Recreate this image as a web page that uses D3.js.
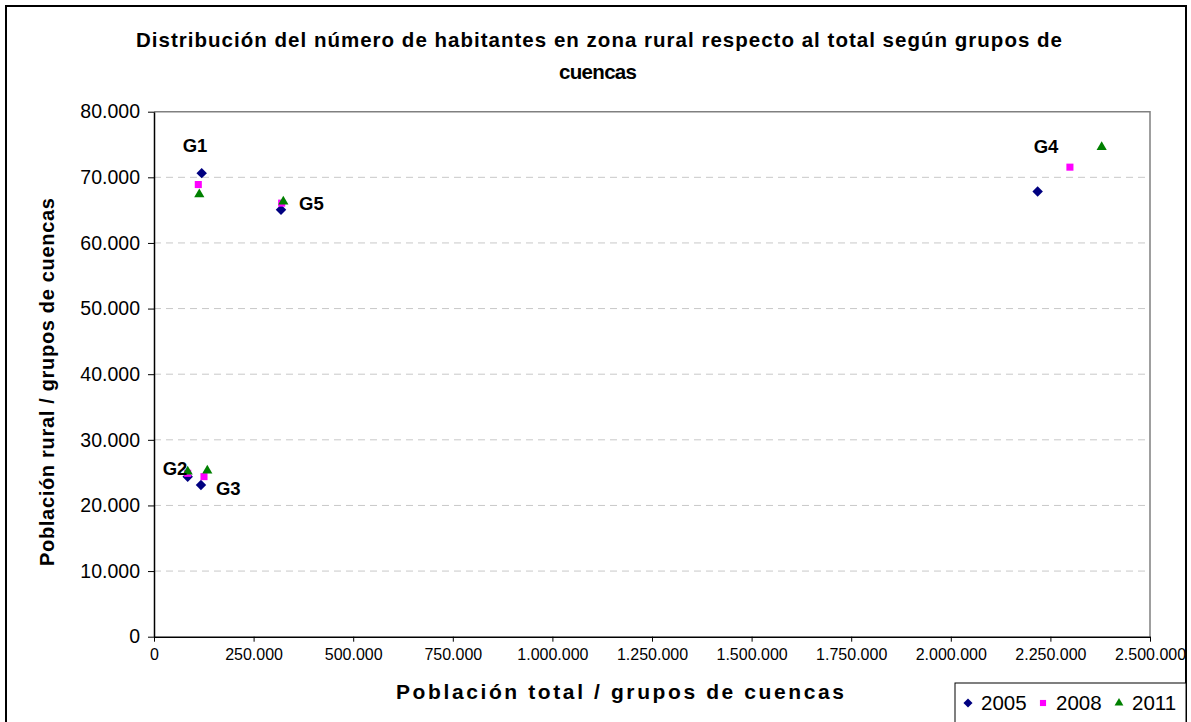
<!DOCTYPE html>
<html>
<head>
<meta charset="utf-8">
<script src="https://cdn.jsdelivr.net/npm/d3@7"></script>
<style>
  body { margin: 0; background: #fff; }
  text { font-family: "Liberation Sans", Arial, sans-serif; }
</style>
</head>
<body>
<div id="chart"></div>
<script>
var svgWidth = 1191
var svgHeight = 722

// data (x = total population, y = rural population)
var groups = ["G1", "G2", "G3", "G4", "G5"]
var years = ["2005", "2008", "2011"]
var total2005 = [119700, 84600, 117900, 2218000, 318800]
var rural2005 = [70640, 24390, 23120, 67840, 65050]
var total2008 = [111200, 84600, 125500, 2299000, 320500]
var rural2008 = [68900, 24900, 24390, 71550, 66070]
var total2011 = [113700, 84600, 133800, 2378700, 324600]
var rural2011 = [67400, 25150, 25300, 74600, 66300]
var xTicks = [0, 250000, 500000, 750000, 1000000, 1250000, 1500000, 1750000, 2000000, 2250000, 2500000]
var yTicks = [0, 10000, 20000, 30000, 40000, 50000, 60000, 70000, 80000]

var series = [
  { name: years[0], x: total2005, y: rural2005, color: "#000080", symbol: d3.symbolDiamond2, size: 70 },
  { name: years[1], x: total2008, y: rural2008, color: "#FF00FF", symbol: d3.symbolSquare, size: 50 },
  { name: years[2], x: total2011, y: rural2011, color: "#008000", symbol: d3.symbolTriangle, size: 45 }
]

var es = d3.formatLocale({ decimal: ",", thousands: ".", grouping: [3], currency: ["", ""] })
var fmt = es.format(",d")

var svg = d3.select("#chart")
  .append("svg")
  .attr("width", svgWidth)
  .attr("height", svgHeight)

// outer frame
svg.append("rect")
  .attr("x", 6).attr("y", 6)
  .attr("width", 1180).attr("height", 730)
  .attr("fill", "none")
  .attr("stroke", "#000")
  .attr("stroke-width", 2)

var xScale = d3.scaleLinear().domain([0, 2500000]).range([154, 1150])
var yScale = d3.scaleLinear().domain([0, 80000]).range([636.7, 111.7])

// gridlines
svg.append("g")
  .selectAll("line")
  .data(yTicks.filter(d => d > 0 && d < 80000))
  .enter()
  .append("line")
  .attr("x1", xScale(0)).attr("x2", xScale(2500000))
  .attr("y1", d => yScale(d)).attr("y2", d => yScale(d))
  .attr("stroke", "#c8c8c8")
  .attr("stroke-dasharray", "7,5")

// plot border top/right
svg.append("path")
  .attr("d", `M${xScale(0)},${yScale(80000)}H${xScale(2500000)}V${yScale(0)}`)
  .attr("fill", "none")
  .attr("stroke", "#808080")
  .attr("stroke-width", 1.5)

var bottomAxis = d3.axisBottom(xScale).tickValues(xTicks).tickFormat(fmt).tickSizeInner(5).tickSizeOuter(0)
var leftAxis = d3.axisLeft(yScale).tickValues(yTicks).tickFormat(fmt).tickSizeInner(6).tickSizeOuter(0)

var gx = svg.append("g")
  .attr("transform", `translate(0, ${yScale(0)})`)
  .call(bottomAxis)
gx.select(".domain").attr("stroke", "#000").attr("stroke-width", 1.5)
gx.selectAll("line").attr("stroke", "#000")
gx.selectAll("text")
  .attr("font-size", "16px")
  .attr("font-family", "Liberation Sans, Arial, sans-serif")
  .attr("fill", "#000")
  .attr("y", 12)

var gy = svg.append("g")
  .attr("transform", `translate(${xScale(0)}, 0)`)
  .call(leftAxis)
gy.select(".domain").attr("stroke", "#000").attr("stroke-width", 1.5)
gy.selectAll("line").attr("stroke", "#000")
gy.selectAll("text")
  .attr("font-size", "19.5px")
  .attr("font-family", "Liberation Sans, Arial, sans-serif")
  .attr("fill", "#000")
  .attr("x", -14)

// points
series.forEach(s => {
  svg.append("g")
    .selectAll("path")
    .data(s.x.map((v, i) => ({ x: v, y: s.y[i] })))
    .enter()
    .append("path")
    .attr("d", d3.symbol().type(s.symbol).size(s.size))
    .attr("transform", d => `translate(${xScale(d.x)}, ${yScale(d.y)})`)
    .attr("fill", s.color)
})

// group labels, placed next to the 2005 point
var labelOffset = { G1: [-19, -21], G2: [-25, -2], G3: [15, 10], G4: [-4, -39], G5: [18, 0] }
svg.append("g")
  .selectAll("text")
  .data(groups)
  .enter()
  .append("text")
  .attr("x", (d, i) => xScale(total2005[i]) + labelOffset[d][0])
  .attr("y", (d, i) => yScale(rural2005[i]) + labelOffset[d][1])
  .attr("font-size", "18.5px")
  .attr("font-weight", "bold")
  .text(d => d)

// title
svg.append("text")
  .attr("x", 599).attr("y", 47)
  .attr("text-anchor", "middle")
  .attr("font-size", "20.5px")
  .attr("font-weight", "bold")
  .attr("textLength", 926)
  .attr("lengthAdjust", "spacing")
  .text("Distribución del número de habitantes en zona rural respecto al total según grupos de")
svg.append("text")
  .attr("x", 598).attr("y", 79)
  .attr("text-anchor", "middle")
  .attr("font-size", "20.5px")
  .attr("font-weight", "bold")
  .attr("textLength", 78)
  .attr("lengthAdjust", "spacing")
  .text("cuencas")

// axis titles
svg.append("text")
  .attr("x", 620).attr("y", 699)
  .attr("text-anchor", "middle")
  .attr("font-size", "21px")
  .attr("font-weight", "bold")
  .attr("textLength", 448)
  .attr("lengthAdjust", "spacing")
  .text("Población total / grupos de cuencas")

svg.append("text")
  .attr("transform", "translate(54, 382) rotate(-90)")
  .attr("text-anchor", "middle")
  .attr("font-size", "20px")
  .attr("font-weight", "bold")
  .attr("textLength", 368)
  .attr("lengthAdjust", "spacing")
  .text("Población rural / grupos de cuencas")

// legend
var legend = svg.append("g")
legend.append("rect")
  .attr("x", 955).attr("y", 683)
  .attr("width", 231).attr("height", 60)
  .attr("fill", "#fff")
  .attr("stroke", "#000")
  .attr("stroke-width", 1)

var legendX = [968, 1043, 1119]
var item = legend.selectAll(".item")
  .data(series)
  .enter()
  .append("g")
  .attr("transform", (d, i) => `translate(${legendX[i]}, 703)`)
item.append("path")
  .attr("d", d => d3.symbol().type(d.symbol).size(d.size * 0.75)())
  .attr("fill", d => d.color)
item.append("text")
  .attr("x", 13).attr("y", 6.5)
  .attr("font-size", "20.5px")
  .text(d => d.name)
</script>
</body>
</html>
